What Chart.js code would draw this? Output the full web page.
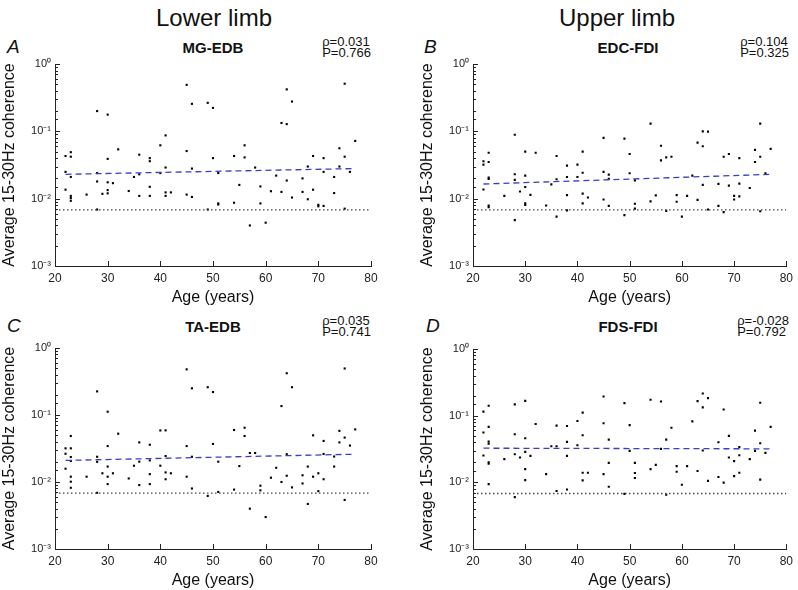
<!DOCTYPE html>
<html lang="en">
<head>
<meta charset="UTF-8">
<script src="https://cdn.jsdelivr.net/npm/chart.js"></script>
<style>
  body { margin: 0; width: 798px; height: 590px; overflow: hidden; background: #fff;
         font-family: Arial, "Liberation Sans", sans-serif; color: #111; position: relative; }
  canvas { position: absolute; }
  .lbl { position: absolute; white-space: nowrap; transform: translate(-50%, -50%); }
  .head { font-size: 24px; }
  .letter { font-size: 19px; font-style: italic; transform: translate(0, -50%); }
  .ttl { font-size: 15px; font-weight: bold; }
  .stat { font-size: 13px; line-height: 11px; text-align: left; transform: translate(-100%, 0); }
</style>
</head>
<body>
<div class="lbl head" style="left:214px;top:18px">Lower limb</div>
<div class="lbl head" style="left:617px;top:18px">Upper limb</div>

<div class="lbl letter" style="left:7px;top:47px">A</div>
<div class="lbl letter" style="left:424px;top:47px">B</div>
<div class="lbl letter" style="left:7px;top:326px">C</div>
<div class="lbl letter" style="left:426px;top:326px">D</div>

<div class="lbl ttl" style="left:213px;top:47px">MG-EDB</div>
<div class="lbl ttl" style="left:628px;top:47px">EDC-FDI</div>
<div class="lbl ttl" style="left:213px;top:326px">TA-EDB</div>
<div class="lbl ttl" style="left:628px;top:326px">FDS-FDI</div>

<div class="lbl stat" style="left:371px;top:36px">ρ=0.031<br>P=0.766</div>
<div class="lbl stat" style="left:789px;top:36px">ρ=0.104<br>P=0.325</div>
<div class="lbl stat" style="left:371px;top:315px">ρ=0.035<br>P=0.741</div>
<div class="lbl stat" style="left:789px;top:315px">ρ=-0.028<br>P=0.792</div>

<canvas id="cA" width="400" height="277" style="left:0px;top:30px"></canvas>
<canvas id="cB" width="380" height="277" style="left:418px;top:30px"></canvas>
<canvas id="cC" width="400" height="280" style="left:0px;top:310px"></canvas>
<canvas id="cD" width="380" height="280" style="left:418px;top:310px"></canvas>

<script>
// ---- data ----
const agesA = [22,22,22,23,23,23,23,23,23,26,28,28,28,28,29,30,30,30,30,30,31,32,34,35,36,36,36,
  38,38,38,38,40,40,41,41,41,41,42,45,45,45,46,46,46,49,49,50,50,51,51,51,54,54,55,56,56,57,58,59,59,
  60,61,62,63,63,64,64,64,65,65,67,67,68,68,69,69,70,70,71,71,71,73,73,74,74,75,75,75,76,77];
const cohA = [0.043,0.025,0.0136,0.049,0.042,0.021,0.011,0.0102,0.0093,0.0115,0.20,0.024,0.018,0.0069,
  0.0118,0.177,0.039,0.0175,0.0134,0.012,0.017,0.054,0.013,0.021,0.045,0.023,0.011,
  0.040,0.036,0.015,0.011,0.062,0.024,0.087,0.029,0.0124,0.011,0.0124,0.49,0.051,0.0115,0.256,0.028,0.0106,
  0.265,0.0069,0.223,0.040,0.024,0.0085,0.0082,0.043,0.0087,0.016,0.062,0.041,0.0040,0.029,0.0152,0.0085,
  0.0044,0.0129,0.022,0.133,0.0126,0.42,0.128,0.0186,0.277,0.0104,0.020,0.0126,0.030,0.0098,0.043,0.0136,
  0.0081,0.0077,0.040,0.025,0.0078,0.021,0.0121,0.056,0.030,0.51,0.042,0.0071,0.025,0.072];

const agesB = [22,22,22,23,23,23,23,23,23,26,28,28,28,28,29,30,30,30,30,30,31,32,34,35,36,36,36,
  38,38,38,38,40,40,41,41,41,41,42,45,45,45,46,46,46,49,49,50,50,51,51,51,54,54,55,56,56,57,57,58,59,59,
  60,61,62,63,63,64,64,64,65,65,67,67,68,68,69,69,70,70,71,71,71,73,74,74,75,75,75,76,77];
const cohB = [0.036,0.032,0.0137,0.048,0.035,0.0205,0.0196,0.0079,0.0075,0.011,0.089,0.023,0.019,0.0048,
  0.0128,0.050,0.022,0.0149,0.0085,0.0081,0.0114,0.048,0.0079,0.0163,0.043,0.0194,0.0054,
  0.031,0.021,0.0113,0.0067,0.032,0.021,0.050,0.0243,0.0119,0.0085,0.0104,0.080,0.025,0.0097,0.0228,0.0198,0.0078,
  0.078,0.0057,0.046,0.0238,0.0187,0.0084,0.0071,0.13,0.0091,0.0112,0.061,0.037,0.041,0.0066,0.042,0.0113,0.0090,
  0.0054,0.011,0.022,0.068,0.0096,0.10,0.060,0.016,0.099,0.0069,0.0166,0.0078,0.042,0.0063,0.046,0.0156,
  0.011,0.0097,0.040,0.0167,0.0108,0.0144,0.053,0.035,0.13,0.042,0.0065,0.0238,0.055];

const agesC = [22,22,22,23,23,23,23,23,23,23,26,28,28,28,28,29,30,30,30,30,30,31,32,34,35,36,36,36,
  38,38,38,38,40,40,41,41,41,41,42,45,45,45,46,46,46,49,49,50,50,51,51,54,54,55,56,56,57,57,58,59,59,
  60,61,62,63,63,64,64,64,65,65,67,67,68,68,69,69,70,70,71,71,71,73,73,74,74,75,75,75,76,77];
const cohC = [0.0318,0.0264,0.0158,0.0486,0.0318,0.0236,0.0206,0.012,0.0101,0.0082,0.012,0.225,0.0238,0.020,0.0069,
  0.0135,0.112,0.0344,0.017,0.012,0.0093,0.0135,0.0526,0.0113,0.0175,0.039,0.0201,0.009,
  0.036,0.021,0.0131,0.0093,0.0588,0.0175,0.059,0.0244,0.0139,0.011,0.0135,0.48,0.0344,0.012,0.25,0.0238,0.008,
  0.26,0.0062,0.22,0.037,0.0201,0.0071,0.0597,0.0077,0.0173,0.0646,0.0486,0.0271,0.004,0.0271,0.0088,0.0075,
  0.003,0.0116,0.0163,0.136,0.0100,0.42,0.026,0.0124,0.26,0.0083,0.0126,0.0095,0.017,0.0047,0.0497,0.012,
  0.0135,0.0073,0.041,0.0262,0.011,0.024,0.017,0.058,0.039,0.495,0.046,0.0054,0.035,0.061];

const agesD = [22,22,22,23,23,23,23,23,23,23,26,28,28,28,28,29,30,30,30,30,30,31,32,34,35,36,36,36,
  38,38,38,38,40,40,41,41,41,41,42,45,45,45,46,46,46,49,49,50,50,51,51,51,54,54,55,56,56,57,57,58,59,59,
  60,61,62,63,63,64,64,64,65,65,67,67,68,68,69,69,70,70,71,71,71,73,74,74,75,75,75,76,77];
const cohD = [0.115,0.056,0.0253,0.141,0.068,0.041,0.038,0.020,0.019,0.0094,0.0223,0.148,0.0526,0.0264,0.006,
  0.0236,0.167,0.0458,0.0286,0.0158,0.0108,0.0249,0.075,0.0133,0.0348,0.0708,0.0348,0.0074,
  0.070,0.0404,0.0249,0.0078,0.083,0.036,0.111,0.0508,0.0139,0.0107,0.0139,0.194,0.077,0.0133,0.0438,0.0196,0.0086,
  0.154,0.0067,0.072,0.0296,0.0196,0.0138,0.0116,0.173,0.0158,0.0183,0.163,0.0318,0.0438,0.0065,0.066,0.0175,0.0144,
  0.0092,0.0175,0.082,0.165,0.0148,0.215,0.133,0.030,0.183,0.0105,0.040,0.012,0.124,0.0099,0.0497,0.0236,
  0.0208,0.0124,0.0337,0.0255,0.0139,0.0223,0.0597,0.0296,0.156,0.0386,0.011,0.0277,0.068];

// regression lines (dashed blue) and noise floor (dotted)
const trendAge = [22, 77];
const trendA = [0.023, 0.028];
const trendB = [0.0165, 0.023];
const trendC = [0.021, 0.026];
const trendD = [0.0325, 0.0318];
const floorAge = [20, 80];
const floorVal = [0.0068, 0.0068];

const yTickPowers = [-3, -2, -1, 0];

const SUP = {'-':'⁻','0':'⁰','1':'¹','2':'²','3':'³'};
function powLabel(v) {
  const e = Math.log10(v);
  const r = Math.round(e);
  if (Math.abs(e - r) > 1e-6 || yTickPowers.indexOf(r) < 0) return '';
  return '10' + String(r).split('').map(c => SUP[c]).join('');
}

// inward MATLAB-style tick marks
const inwardTicks = {
  id: 'inwardTicks',
  afterDraw(chart) {
    const ctx = chart.ctx, a = chart.chartArea;
    const ys = chart.scales.y, xs = chart.scales.x;
    ctx.save();
    ctx.strokeStyle = '#222';
    ctx.lineWidth = 1;
    ctx.beginPath();
    ys.ticks.forEach(t => {
      const e = Math.log10(t.value);
      const major = Math.abs(e - Math.round(e)) < 1e-6;
      const y = Math.round(ys.getPixelForValue(t.value)) + 0.5;
      ctx.moveTo(a.left, y);
      ctx.lineTo(a.left + (major ? 5 : 3), y);
    });
    xs.ticks.forEach(t => {
      const x = Math.round(xs.getPixelForValue(t.value)) + 0.5;
      ctx.moveTo(x, a.bottom);
      ctx.lineTo(x, a.bottom - 5);
    });
    ctx.stroke();
    ctx.restore();
  }
};

function pts(xs, ys) { return xs.map((x, i) => ({x: x, y: ys[i]})); }

function makePanel(id, ages, coh, trend, padTop, padRight) {
  new Chart(document.getElementById(id), {
    type: 'scatter',
    data: {
      datasets: [
        { type: 'line', data: pts(floorAge, floorVal), borderColor: '#444', borderWidth: 1.3,
          borderDash: [1.5, 2.5], pointRadius: 0, fill: false },
        { type: 'line', data: pts(trendAge, trend), borderColor: '#3c3cc4', borderWidth: 1.3,
          borderDash: [6, 4], pointRadius: 0, fill: false },
        { data: pts(ages, coh), pointStyle: 'rect', pointRadius: 1.5, backgroundColor: '#000',
          borderWidth: 0 }
      ]
    },
    options: {
      responsive: false,
      animation: false,
      layout: { padding: { top: padTop, right: padRight, left: 0, bottom: 0 } },
      plugins: { legend: { display: false }, tooltip: { enabled: false } },
      scales: {
        x: {
          type: 'linear', min: 20, max: 80,
          afterFit: s => { s.height = 41; },
          grid: { display: false, drawTicks: false },
          border: { display: true, color: '#222', width: 1 },
          ticks: { stepSize: 10, padding: 5, color: '#222',
                   font: { family: 'Arial, "Liberation Sans"', size: 12 } },
          title: { display: true, text: 'Age (years)', color: '#111', padding: 0,
                   font: { family: 'Arial, "Liberation Sans"', size: 16 } }
        },
        y: {
          type: 'logarithmic', min: 0.001, max: 1,
          afterFit: s => { s.width = 55; },
          grid: { display: false, drawTicks: false },
          border: { display: true, color: '#222', width: 1 },
          ticks: { autoSkip: false, padding: 4, color: '#222', callback: v => powLabel(v),
                   font: { family: 'Arial, "Liberation Sans"', size: 11 } },
          title: { display: true, text: 'Average 15-30Hz coherence', color: '#111', padding: 0,
                   font: { family: 'Arial, "Liberation Sans"', size: 16 } }
        }
      }
    },
    plugins: [inwardTicks]
  });
}

makePanel('cA', agesA, cohA, trendA, 34, 29);
makePanel('cB', agesB, cohB, trendB, 34, 9);
makePanel('cC', agesC, cohC, trendC, 38, 29);
makePanel('cD', agesD, cohD, trendD, 39, 9);
</script>
</body>
</html>
